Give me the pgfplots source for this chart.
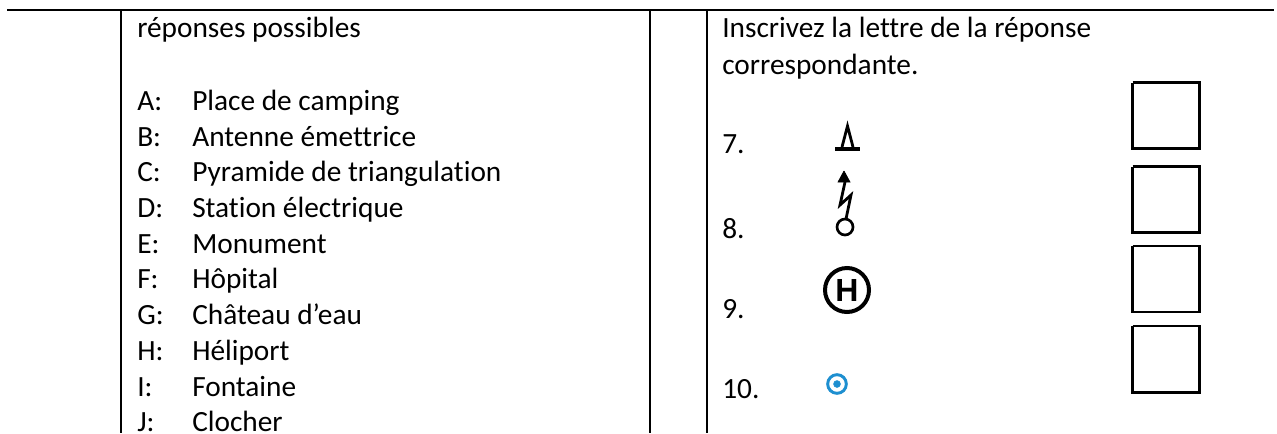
\documentclass[border=0pt]{standalone}
\usepackage{fontspec}
\setmainfont{Carlito}[Ligatures=NoCommon]
\newfontfamily\arialfont{Liberation Sans}
\usepackage{pgfplots}
\pgfplotsset{compat=1.18}
\definecolor{markblue}{HTML}{1E8FD0}
% 1 px of the reference = 0.75pt
\newcommand{\txt}[3]{\node[anchor=base west,inner sep=0pt,font=\fontsize{22}{26}\selectfont] at (axis cs:#1,#2) {#3};}
\begin{document}
\begin{tikzpicture}
\begin{axis}[
  scale only axis,
  width=957.75pt,
  height=324.75pt,
  xmin=0, xmax=1277,
  ymin=0, ymax=433,
  y dir=reverse,
  hide axis,
  clip=true,
]
% table rules
\addplot[black, line width=1.6pt] coordinates {(7,10)(1274,10)};
\addplot[black, line width=1.6pt] coordinates {(121,10)(121,433)};
\addplot[black, line width=1.6pt] coordinates {(650,10)(650,433)};
\addplot[black, line width=1.6pt] coordinates {(707,10)(707,433)};
% answer boxes
\addplot[black, line width=2.1pt] coordinates {(1132.5,82.5)(1199.5,82.5)(1199.5,148.5)(1132.5,148.5)(1132.5,82.5)};
\addplot[black, line width=2.1pt] coordinates {(1132.5,166.5)(1199.5,166.5)(1199.5,232.5)(1132.5,232.5)(1132.5,166.5)};
\addplot[black, line width=2.1pt] coordinates {(1132.5,246)(1199.5,246)(1199.5,312)(1132.5,312)(1132.5,246)};
\addplot[black, line width=2.1pt] coordinates {(1132.5,326)(1199.5,326)(1199.5,392.5)(1132.5,392.5)(1132.5,326)};
% symbol 7
\addplot[black, line width=3pt] coordinates {(835,148.5)(860,148.5)};
\addplot[black, line width=2.1pt] coordinates {(842,147)(847.5,126)(853,147)};
% symbol 8
\addplot[black, fill=black, line width=0.5pt] coordinates {(844,171)(838,182)(850,182)(844,171)};
\addplot[black, line width=2.1pt] coordinates {(845,182)(840,205)(851,195)(846,219)};
\addplot[only marks, mark=o, mark size=6pt, mark options={draw=black, line width=2pt, fill=none}] coordinates {(845,227)};
% symbol 9
\addplot[only marks, mark=o, mark size=16.5pt, mark options={draw=black, line width=3pt, fill=none}] coordinates {(847,290)};
\node[inner sep=0pt,font=\arialfont\bfseries\fontsize{24}{28}\selectfont] at (axis cs:847,290) {H};
% symbol 10
\addplot[only marks, mark=o, mark size=7pt, mark options={draw=markblue, line width=2.2pt, fill=none}] coordinates {(837,384)};
\addplot[only marks, mark=*, mark size=2.6pt, mark options={draw=markblue, fill=markblue}] coordinates {(837,384)};
% left column
\txt{137}{37}{réponses possibles}
\txt{137}{110}{A:}\txt{192}{110}{Place de camping}
\txt{137}{146}{B:}\txt{192}{146}{Antenne émettrice}
\txt{137}{181}{C:}\txt{192}{181}{Pyramide de triangulation}
\txt{137}{217}{D:}\txt{192}{217}{Station électrique}
\txt{137}{253}{E:}\txt{192}{253}{Monument}
\txt{137}{288}{F:}\txt{192}{288}{Hôpital}
\txt{137}{324}{G:}\txt{192}{324}{Château d’eau}
\txt{137}{360}{H:}\txt{192}{360}{Héliport}
\txt{137}{396}{I:}\txt{192}{396}{Fontaine}
\txt{137}{431}{J:}\txt{192}{431}{Clocher}
% right column
\txt{722}{37}{Inscrivez la lettre de la réponse}
\txt{722}{74}{correspondante.}
\txt{722}{153}{7.}
\txt{722}{238}{8.}
\txt{722}{318}{9.}
\txt{722}{398}{10.}
\end{axis}
\pgfresetboundingbox
\path[use as bounding box] (current axis.south west) rectangle (current axis.north east);
\end{tikzpicture}
\end{document}
